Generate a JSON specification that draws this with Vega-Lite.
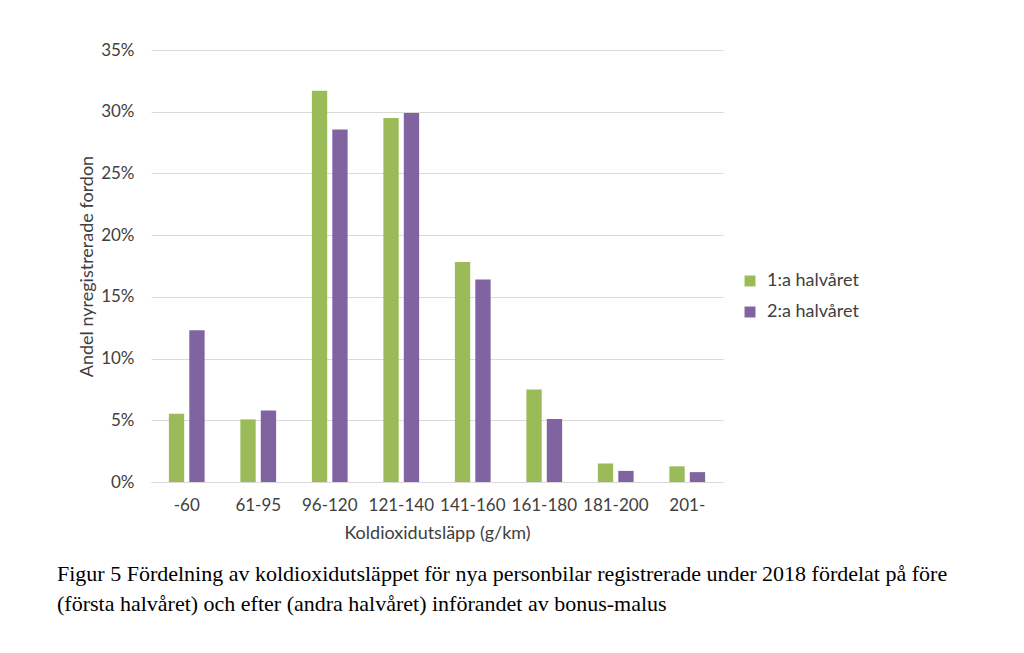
{
  "$schema": "https://vega.github.io/schema/vega-lite/v6.json",
  "width": 572,
  "height": 432,
  "autosize": {"type": "none"},
  "padding": {"left": 151, "top": 50, "right": 301, "bottom": 171},
  "background": "white",
  "title": {
    "text": [
      "Figur 5 Fördelning av koldioxidutsläppet för nya personbilar registrerade under 2018 fördelat på före",
      "(första halvåret) och efter (andra halvåret) införandet av bonus-malus"
    ],
    "orient": "bottom",
    "anchor": "start",
    "frame": "group",
    "dx": -94,
    "offset": 22,
    "font": "Liberation Serif",
    "fontSize": 22,
    "fontWeight": "normal",
    "color": "#000000",
    "lineHeight": 29.5
  },
  "data": {
    "values": [
      {"kategori": "-60", "period": "1:a halvåret", "andel": 0.0553},
      {"kategori": "-60", "period": "2:a halvåret", "andel": 0.123},
      {"kategori": "61-95", "period": "1:a halvåret", "andel": 0.0507},
      {"kategori": "61-95", "period": "2:a halvåret", "andel": 0.058},
      {"kategori": "96-120", "period": "1:a halvåret", "andel": 0.317},
      {"kategori": "96-120", "period": "2:a halvåret", "andel": 0.2856},
      {"kategori": "121-140", "period": "1:a halvåret", "andel": 0.295},
      {"kategori": "121-140", "period": "2:a halvåret", "andel": 0.299},
      {"kategori": "141-160", "period": "1:a halvåret", "andel": 0.1783},
      {"kategori": "141-160", "period": "2:a halvåret", "andel": 0.164},
      {"kategori": "161-180", "period": "1:a halvåret", "andel": 0.075},
      {"kategori": "161-180", "period": "2:a halvåret", "andel": 0.051},
      {"kategori": "181-200", "period": "1:a halvåret", "andel": 0.015},
      {"kategori": "181-200", "period": "2:a halvåret", "andel": 0.009},
      {"kategori": "201-", "period": "1:a halvåret", "andel": 0.0127},
      {"kategori": "201-", "period": "2:a halvåret", "andel": 0.008}
    ]
  },
  "mark": {"type": "bar"},
  "encoding": {
    "x": {
      "field": "kategori",
      "type": "nominal",
      "sort": ["-60", "61-95", "96-120", "121-140", "141-160", "161-180", "181-200", "201-"],
      "title": "Koldioxidutsläpp (g/km)",
      "scale": {"paddingInner": 0.5, "paddingOuter": 0.25},
      "axis": {
        "labelAngle": 0,
        "labelPadding": 15,
        "titlePadding": 11,
        "domainColor": "#d9d9d9",
        "ticks": false
      }
    },
    "xOffset": {
      "field": "period",
      "type": "nominal",
      "scale": {"paddingInner": 0.25, "paddingOuter": 0}
    },
    "y": {
      "field": "andel",
      "type": "quantitative",
      "title": "Andel nyregistrerade fordon",
      "scale": {"domain": [0, 0.35]},
      "axis": {
        "format": ".0%",
        "values": [0, 0.05, 0.1, 0.15, 0.2, 0.25, 0.3, 0.35],
        "domain": false,
        "ticks": false,
        "labelPadding": 17,
        "titlePadding": 4,
        "gridColor": "#d9d9d9"
      }
    },
    "color": {
      "field": "period",
      "type": "nominal",
      "title": null,
      "scale": {
        "domain": ["1:a halvåret", "2:a halvåret"],
        "range": ["#9bbb59", "#8064a2"]
      },
      "legend": {
        "orient": "none",
        "legendX": 590,
        "legendY": 222,
        "symbolType": "square",
        "symbolSize": 120,
        "symbolStrokeWidth": 0,
        "rowPadding": 13,
        "labelOffset": 8
      }
    }
  },
  "config": {
    "view": {"stroke": null},
    "font": "Lato",
    "axis": {
      "labelFont": "Lato",
      "labelFontSize": 17,
      "labelColor": "#404040",
      "titleFont": "Lato",
      "titleFontSize": 18,
      "titleFontWeight": "normal",
      "titleColor": "#404040"
    },
    "legend": {
      "labelFont": "Lato",
      "labelFontSize": 18,
      "labelColor": "#404040"
    }
  }
}
